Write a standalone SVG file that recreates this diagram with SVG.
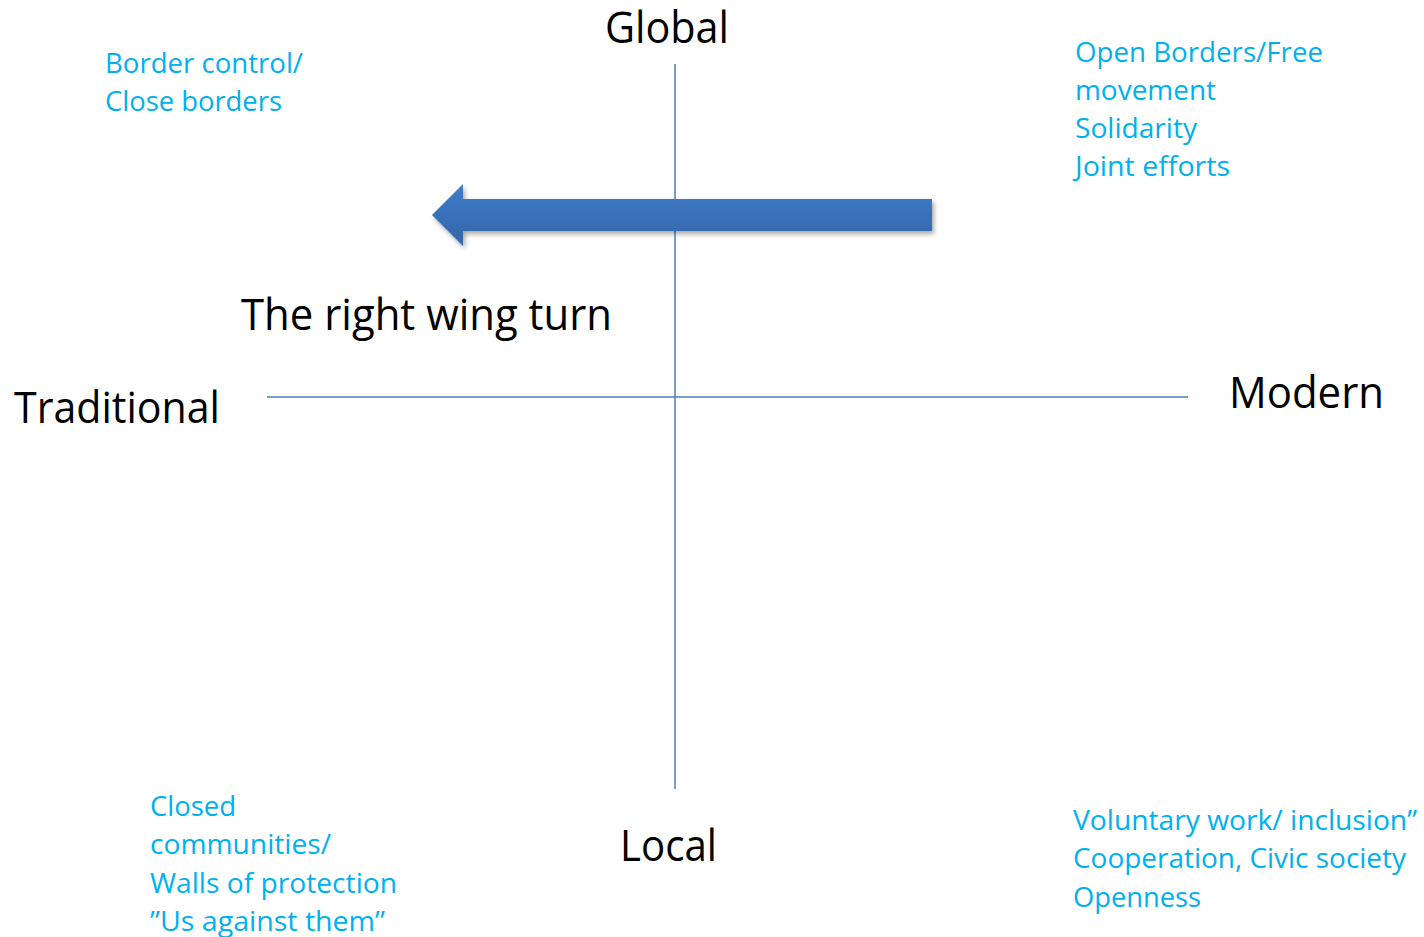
<svg xmlns="http://www.w3.org/2000/svg" width="1424" height="937" viewBox="0 0 1424 937">
<style>
.ax{stroke:#4A7EBB;stroke-width:1.5;fill:none}
.big{font-family:"Open Sans","Noto Sans",sans-serif;font-size:43px;fill:#000}
.lbl{font-family:"Open Sans","Noto Sans",sans-serif;font-size:27px;fill:#00B0F0}
</style>
<defs>
<linearGradient id="ag" x1="0" y1="0" x2="0" y2="1">
<stop offset="0" stop-color="#3F7BC8"/>
<stop offset="1" stop-color="#3366AA"/>
</linearGradient>
<filter id="sh" x="-10%" y="-50%" width="120%" height="200%">
<feDropShadow dx="2" dy="3" stdDeviation="2.5" flood-color="#000" flood-opacity="0.35"/>
</filter>
</defs>
<rect width="1424" height="937" fill="#fff"/>
<g id="connectors">
<line class="ax" x1="675" y1="64" x2="675" y2="789"/>
<line class="ax" x1="267" y1="397" x2="1188" y2="397"/>
</g>
<g id="arrow">
<path d="M432,215 L463,184 L463,199 L932,199 L932,231 L463,231 L463,246 Z" fill="url(#ag)" filter="url(#sh)"/>
</g>
<g id="global"><text class="big" x="605" y="43" textLength="124" lengthAdjust="spacingAndGlyphs">Global</text></g>
<g id="traditional"><text class="big" x="14" y="423" textLength="206" lengthAdjust="spacingAndGlyphs">Traditional</text></g>
<g id="modern"><text class="big" x="1229" y="408" textLength="155" lengthAdjust="spacingAndGlyphs">Modern</text></g>
<g id="local"><text class="big" x="620" y="861" textLength="97" lengthAdjust="spacingAndGlyphs">Local</text></g>
<g id="turn"><text class="big" x="241" y="330" textLength="371" lengthAdjust="spacingAndGlyphs">The right wing turn</text></g>
<g id="topleft">
<text class="lbl" x="105" y="73" textLength="198" lengthAdjust="spacingAndGlyphs">Border control/</text>
<text class="lbl" x="105" y="111" textLength="177" lengthAdjust="spacingAndGlyphs">Close borders</text>
</g>
<g id="topright">
<text class="lbl" x="1075" y="62" textLength="248" lengthAdjust="spacingAndGlyphs">Open Borders/Free</text>
<text class="lbl" x="1075" y="100" textLength="141" lengthAdjust="spacingAndGlyphs">movement</text>
<text class="lbl" x="1075" y="138" textLength="122" lengthAdjust="spacingAndGlyphs">Solidarity</text>
<text class="lbl" x="1075" y="176" textLength="155" lengthAdjust="spacingAndGlyphs">Joint efforts</text>
</g>
<g id="bottomleft">
<text class="lbl" x="150" y="816" textLength="86" lengthAdjust="spacingAndGlyphs">Closed</text>
<text class="lbl" x="150" y="854" textLength="181" lengthAdjust="spacingAndGlyphs">communities/</text>
<text class="lbl" x="150" y="893" textLength="247" lengthAdjust="spacingAndGlyphs">Walls of protection</text>
<text class="lbl" x="150" y="931" textLength="235" lengthAdjust="spacingAndGlyphs">”Us against them”</text>
</g>
<g id="bottomright">
<text class="lbl" x="1073" y="830" textLength="344" lengthAdjust="spacingAndGlyphs">Voluntary work/ inclusion”</text>
<text class="lbl" x="1073" y="868" textLength="333" lengthAdjust="spacingAndGlyphs">Cooperation, Civic society</text>
<text class="lbl" x="1073" y="907" textLength="128" lengthAdjust="spacingAndGlyphs">Openness</text>
</g>
</svg>
